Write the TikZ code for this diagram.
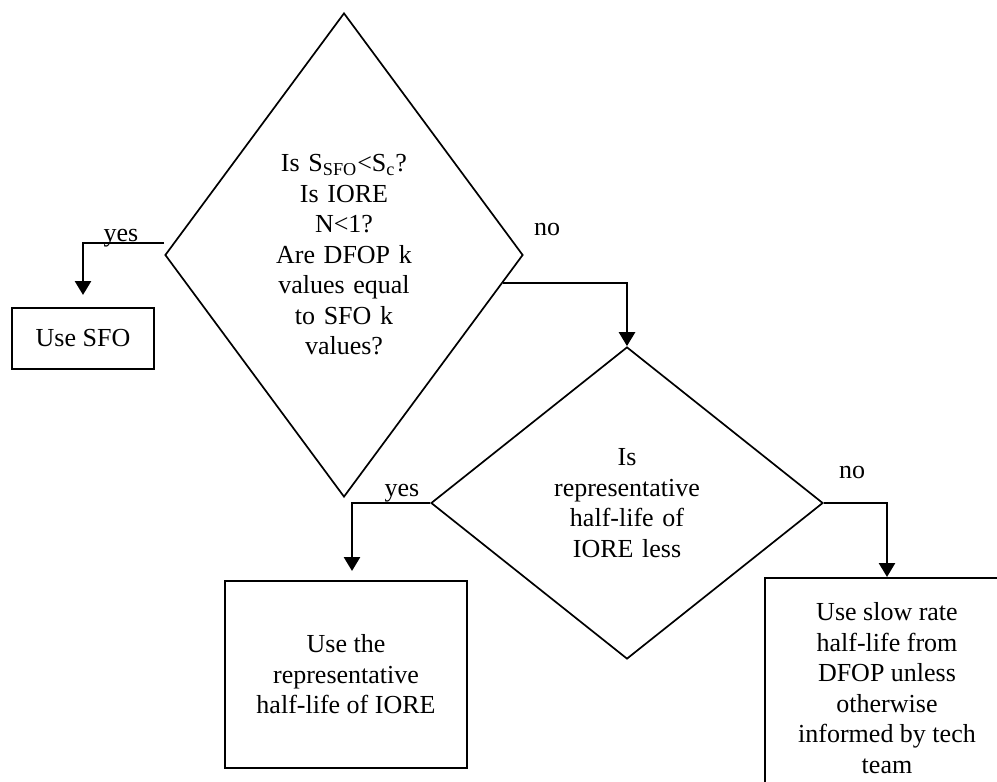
\documentclass[tikz,border=0pt]{standalone}
\usepackage{fontspec}
\setmainfont{Liberation Serif}
\usetikzlibrary{calc,positioning,arrows.meta,shapes.geometric}
\tikzset{
    >={Triangle[width=8pt,length=7pt]},
    decision/.style={
        diamond,
        draw=black, line width=0.85pt,
        inner sep=0pt,
        text width=#1,
        align=center
    },
    result/.style={
        rectangle,
        draw=black, line width=1pt,
        inner sep=0pt,
        align=center
    },
    line/.style={draw, line width=1.3pt, ->},
    answer/.style={anchor=base, inner sep=0pt}
}

\begin{document}
\begin{tikzpicture}[x=0.5pt, y=-0.5pt, font=\fontsize{13}{15.25}\selectfont]
    \clip (0,0) rectangle (997,782);
    % questions
    \node[decision=70pt, aspect=0.74, minimum width=179pt, minimum height=242pt] (d1) at (344,255)
        {Is S\textsubscript{SFO}<S\textsubscript{c}?\\ Is IORE\\ N<1?\\ Are DFOP k\\ values equal\\ to SFO k\\ values?};
    \node[decision=80pt, aspect=1.256, minimum width=196pt, minimum height=156pt] (d2) at (627,503)
        {Is\\ representative\\ half-life of\\ IORE less};
    % outcomes
    \node[result, minimum width=71pt, minimum height=30.5pt] (sfo) at (83,338.5) {Use SFO};
    \node[result, minimum width=121pt, minimum height=93.5pt] (rep) at (346,674.5)
        {Use the\\ representative\\ half-life of IORE};
    \node[result, minimum width=122pt, minimum height=110pt] (slow) at (887,688)
        {Use slow rate\\ half-life from\\ DFOP unless\\ otherwise\\ informed by tech\\ team};
    % branches
    \draw[line, shorten >=6pt] ([yshift=6pt]d1.west) -| (sfo.north);
    \draw[line] ($(d1.east)!0.116!(d1.south)$) -| (d2.north);
    \draw[line, shorten >=4.5pt] (d2.west) -| ([xshift=3pt]rep.north);
    \draw[line] (d2.east) -| (slow.north);
    \node[answer] (yes1) at (121,241) {yes};
    \node[answer] (no1) at (547,235) {no};
    \node[answer] (yes2) at (402,496) {yes};
    \node[answer] (no2) at (852,478) {no};
\end{tikzpicture}
\end{document}
